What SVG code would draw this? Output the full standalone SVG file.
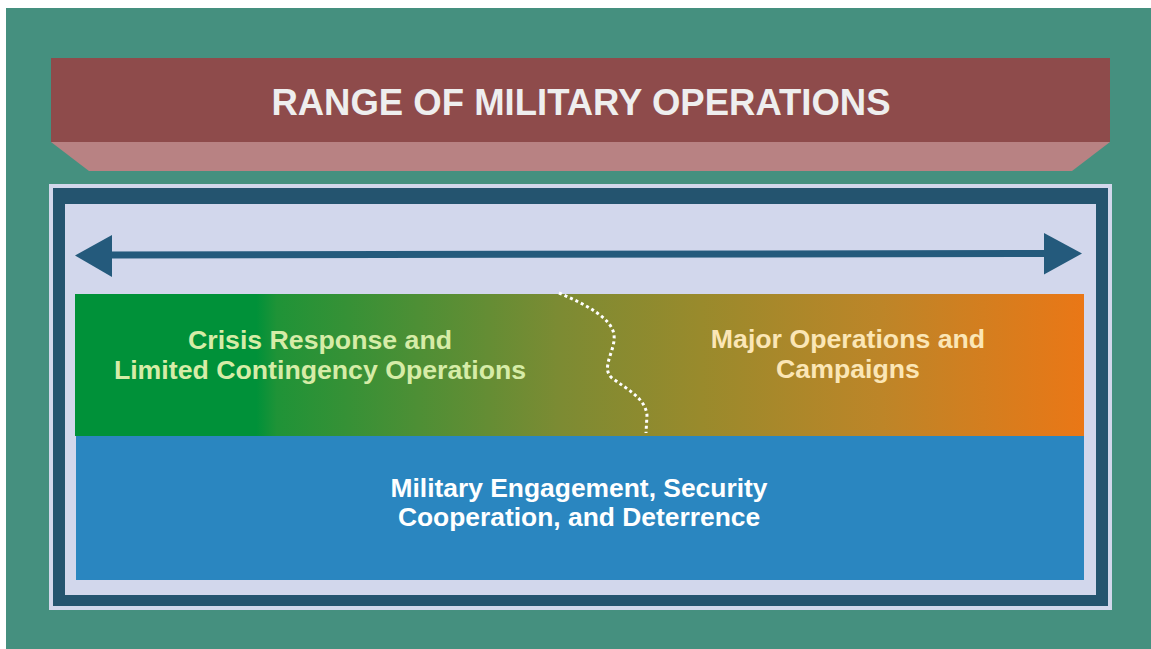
<svg xmlns="http://www.w3.org/2000/svg" width="1151" height="649" viewBox="0 0 1151 649">
<defs>
<style>
.lbl{font-family:"Liberation Sans",Arial,sans-serif;font-weight:bold;text-anchor:middle}
</style>
<linearGradient id="grad" gradientUnits="userSpaceOnUse" x1="75" y1="0" x2="1084" y2="0">
<stop offset="0" stop-color="#009139"/>
<stop offset="0.18" stop-color="#009139"/>
<stop offset="0.2" stop-color="#1f9337"/>
<stop offset="0.48" stop-color="#7c8b33"/>
<stop offset="0.62" stop-color="#998a2c"/>
<stop offset="0.8" stop-color="#bd8528"/>
<stop offset="1" stop-color="#ea7716"/>
</linearGradient>
</defs>
<rect x="0" y="0" width="1151" height="649" fill="#ffffff"/>
<rect x="6" y="8" width="1145" height="641" fill="#45907f"/>
<g id="title">
<rect x="51" y="58" width="1059" height="84" fill="#8e4b4b"/>
<polygon points="51,142 1110,142 1072,171 89,171" fill="#b88283"/>
<text class="lbl" x="581" y="115" font-size="36.5" fill="#eeeeee">RANGE OF MILITARY OPERATIONS</text>
</g>
<g id="frame">
<rect x="49" y="184" width="1063" height="426" fill="#d2d7ec"/>
<rect x="53" y="188" width="1055" height="418" fill="#24546f"/>
<rect x="65" y="204" width="1031" height="391" fill="#d2d7ec"/>
</g>
<g id="connectors">
<line x1="108" y1="255" x2="1048" y2="253.5" stroke="#245a7c" stroke-width="7"/>
<polygon points="75,255.5 112,235 112,277" fill="#245a7c"/>
<polygon points="1082,253.5 1044,233 1044,274.5" fill="#245a7c"/>
</g>
<g id="crisis-major">
<rect x="75" y="294" width="1009" height="142" fill="url(#grad)"/>
<path d="M559,293 C585,304 612,318 614,335 C616,350 600,368 612,378 C628,390 645,398 647,415 L646,433" fill="none" stroke="#ffffff" stroke-width="3" stroke-dasharray="3,3"/>
</g>
<g id="crisis">
<text class="lbl" x="320" y="349" font-size="26.7" fill="#d6eca7">Crisis Response and</text>
<text class="lbl" x="320" y="379" font-size="26.7" fill="#d6eca7">Limited Contingency Operations</text>
</g>
<g id="major">
<text class="lbl" x="848" y="348" font-size="26.7" fill="#fbe6b6">Major Operations and</text>
<text class="lbl" x="848" y="378" font-size="26.7" fill="#fbe6b6">Campaigns</text>
</g>
<g id="engagement">
<rect x="76" y="436" width="1008" height="144" fill="#2a86c0"/>
<text class="lbl" x="579" y="497" font-size="26.4" fill="#ffffff">Military Engagement, Security</text>
<text class="lbl" x="579" y="526" font-size="26.4" fill="#ffffff">Cooperation, and Deterrence</text>
</g>
</svg>
